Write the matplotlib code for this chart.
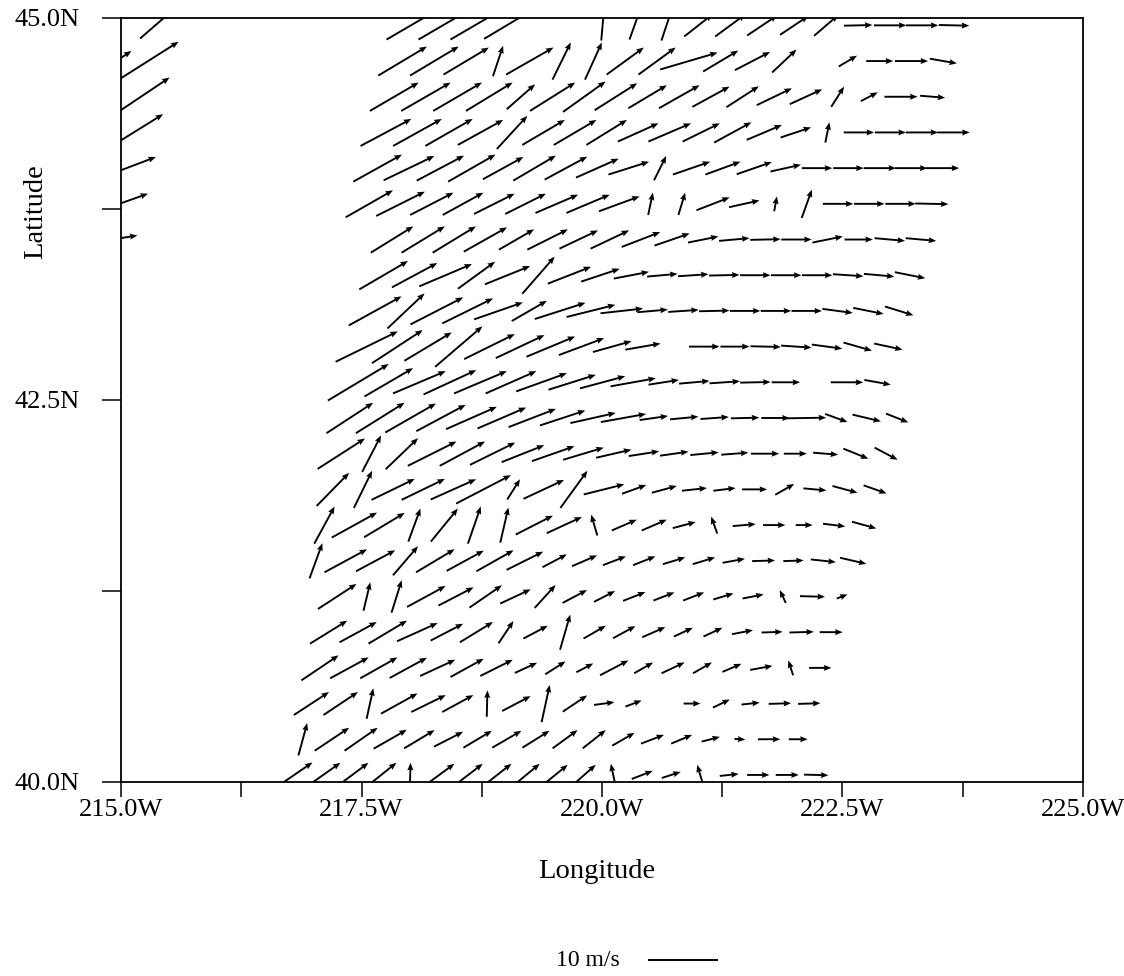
import numpy as np
import matplotlib
matplotlib.use("Agg")
import matplotlib.pyplot as plt
from matplotlib.lines import Line2D

nan = np.nan

# wind (m/s) on the model grid, one list per grid row from south to north
# first_col = grid column index of the first value in each row
first_col = [0, 0, 0, 0, 0, 0, -1, -1, -1, -1, -1, -1, -1, -1, -1, -1, -2, -2, -2, -2, -2, -2]

u_rows = [
    [5.4, 5.1, 4.8, 4.5, 0.1, 4.5, 4.3, 4.2, 4.0, 3.7, 3.4, -0.7, 3.1, 2.8, -0.9, 2.8, 3.3, 3.4, 3.6],
    [1.3, 5.1, 4.9, 4.9, 4.5, 4.3, 4.2, 4.3, 4.0, 3.7, 3.4, 3.3, 3.4, 3.1, 2.7, 1.6, 3.3, 2.8],
    [5.2, 5.1, 1.0, 5.4, 5.1, 4.6, 0.1, 4.2, 1.2, 3.6, 3.0, 2.4, nan, 2.5, 2.5, 2.7, 3.3, 3.3],
    [5.5, 5.7, 5.5, 5.5, 5.2, 4.9, 4.8, 3.3, 3.0, 2.5, 4.2, 2.8, 3.4, 2.8, 2.8, 3.3, -0.7, 3.3],
    [5.5, 5.5, 5.7, 6.0, 4.8, 4.9, 2.2, 3.6, 1.5, 3.3, 3.3, 3.4, 2.8, 2.8, 3.1, 3.1, 3.6, 3.4],
    [5.7, 1.0, 1.5, 5.7, 5.2, 4.8, 4.5, 3.1, 3.6, 3.1, 3.3, 3.1, 3.1, 3.0, 3.1, -0.9, 3.7, 1.6],
    [1.9, 6.3, 5.8, 3.7, 5.7, 5.5, 5.5, 5.4, 3.6, 3.7, 3.4, 3.3, 3.3, 3.3, 3.3, 3.4, 3.0, 3.7, 3.9],
    [3.0, 6.7, 6.0, 1.8, 4.0, 1.9, 1.2, 5.5, 5.2, -0.9, 3.7, 3.7, 3.4, -0.9, 3.4, 3.3, 2.5, 3.3, 3.6],
    [4.8, 2.7, 6.4, 6.4, 6.7, 8.1, 1.9, 6.0, 4.0, 6.0, 3.6, 3.7, 3.7, 3.3, 3.7, 2.8, 3.4, 3.7, 3.4],
    [7.0, 2.8, 4.8, 7.2, 6.7, 6.7, 6.3, 6.3, 6.0, 5.2, 4.5, 4.2, 4.2, 4.0, 4.2, 3.4, 3.7, 3.7, 3.4],
    [6.9, 7.2, 7.5, 7.3, 7.5, 7.2, 7.0, 6.7, 6.7, 6.7, 4.2, 4.2, 4.2, 4.2, 4.2, 6.0, 3.3, 4.2, 3.3],
    [9.0, 7.2, 7.8, 7.8, 7.8, 7.5, 7.5, 7.0, 6.7, 6.7, 4.5, 4.5, 4.5, 4.5, 4.2, nan, 4.8, 3.9],
    [9.2, 7.5, 7.0, 7.0, 7.5, 7.2, 7.2, 6.7, 5.7, 5.2, nan, 4.5, 4.3, 4.5, 4.5, 4.5, 4.2, 4.2],
    [7.8, 5.5, 7.8, 7.5, 7.2, 5.2, 7.5, 7.2, 6.3, 4.5, 4.5, 4.5, 4.5, 4.5, 4.5, 4.5, 4.5, 4.2],
    [7.2, 6.7, 7.8, 5.5, 6.7, 4.8, 6.4, 5.7, 5.2, 4.5, 4.5, 4.5, 4.5, 4.5, 4.5, 4.5, 4.5, 4.5],
    [6.3, 6.4, 6.4, 6.4, 5.2, 6.0, 5.7, 5.7, 5.7, 5.2, 4.5, 4.5, 4.5, 4.5, 4.5, 4.2, 4.5, 4.5],
    [7.0, 7.2, 6.4, 6.0, 6.0, 6.0, 6.3, 6.4, 6.0, 0.7, 1.0, 4.9, 4.5, 0.4, 1.5, 4.5, 4.5, 4.5, 4.9],
    [7.2, 7.5, 7.0, 7.0, 6.0, 6.3, 6.3, 6.3, 6.0, 1.8, 5.5, 5.2, 5.2, 4.5, 4.5, 4.5, 4.8, 4.8, 4.9],
    [7.5, 7.2, 7.0, 6.7, 4.5, 6.3, 6.3, 6.0, 6.0, 6.3, 5.5, 5.5, 5.2, 4.5, 0.6, 4.5, 4.6, 4.8, 4.8],
    [7.2, 7.3, 7.2, 6.9, 4.2, 6.7, 6.3, 6.3, 5.7, 6.0, 5.5, 4.8, 5.2, 4.8, 1.9, 2.5, 4.9, 3.7],
    [7.2, 7.2, 6.7, 1.5, 7.0, 2.7, 2.5, 5.5, 5.5, 8.5, 5.2, 5.2, 3.6, nan, 2.7, 4.0, 4.9, 4.0],
    [7.2, 7.2, 7.2, 6.7, nan, nan, 0.4, 1.5, 1.5, 4.2, 4.5, 4.5, 4.2, 3.6, 4.2, 4.8, 4.8, 4.5],
]

v_rows = [
    [3.7, 3.6, 3.6, 3.6, 3.6, 3.3, 3.3, 3.3, 3.3, 3.0, 3.0, 3.3, 1.2, 0.9, 3.0, 0.3, 0.0, 0.0, -0.1],
    [4.8, 3.4, 3.4, 2.8, 2.7, 2.2, 2.5, 2.5, 2.5, 2.7, 2.7, 1.9, 1.3, 1.3, 0.7, -0.1, 0.0, 0.0],
    [3.4, 3.4, 4.5, 3.0, 2.5, 2.5, 3.9, 2.2, 5.5, 2.4, 0.4, 0.9, nan, 0.0, 1.2, 0.3, 0.1, 0.1],
    [3.7, 3.1, 3.1, 3.0, 2.4, 2.7, 2.4, 1.5, 1.9, 1.3, 2.2, 1.6, 1.6, 1.6, 1.2, 0.6, 2.2, 0.0],
    [3.4, 3.0, 3.4, 2.7, 2.5, 3.0, 3.3, 1.9, 5.2, 1.9, 1.8, 1.5, 1.3, 1.3, 0.6, 0.1, 0.1, 0.0],
    [3.7, 4.2, 4.8, 3.1, 2.7, 3.3, 2.1, 3.4, 1.9, 1.6, 1.3, 1.2, 1.2, 0.9, 0.6, 1.9, -0.1, 0.6],
    [5.2, 3.4, 3.1, 4.3, 3.4, 3.0, 3.1, 2.7, 1.9, 1.6, 1.3, 1.3, 1.0, 1.0, 0.6, 0.1, 0.1, -0.4, -0.9],
    [5.5, 3.7, 3.6, 4.9, 4.9, 5.5, 5.2, 2.8, 2.4, 3.1, 1.6, 1.6, 0.9, 2.5, 0.3, 0.0, 0.0, -0.4, -1.0],
    [4.9, 5.5, 3.1, 3.1, 3.0, 4.2, 3.0, 2.8, 5.5, 1.5, 1.3, 1.0, 0.4, 0.4, 0.0, 1.6, -0.3, -1.0, -1.2],
    [4.5, 5.4, 4.6, 3.6, 3.6, 3.3, 2.5, 2.2, 1.8, 1.2, 0.7, 0.6, 0.4, 0.3, 0.0, 0.0, -0.3, -1.5, -1.8],
    [4.5, 4.5, 4.3, 3.9, 3.3, 3.1, 2.7, 2.2, 1.5, 1.2, 0.6, 0.4, 0.3, 0.1, 0.0, 0.1, -1.2, -1.0, -1.3],
    [5.4, 4.2, 3.3, 3.6, 3.3, 3.3, 2.7, 2.2, 1.8, 1.2, 0.7, 0.4, 0.3, 0.1, 0.0, nan, 0.0, -0.7],
    [4.5, 4.9, 4.2, 6.0, 3.7, 3.4, 3.0, 2.5, 1.6, 0.9, nan, 0.0, 0.0, -0.1, -0.3, -0.6, -1.2, -0.9],
    [4.3, 5.2, 4.0, 3.7, 2.5, 3.0, 2.4, 1.8, 0.7, 0.4, 0.3, 0.1, 0.0, 0.0, 0.0, -0.6, -0.9, -1.3],
    [4.2, 3.6, 3.3, 4.0, 2.7, 5.5, 2.5, 1.9, 1.0, 0.4, 0.3, 0.1, 0.0, 0.0, 0.0, -0.3, -0.4, -0.9],
    [3.9, 3.9, 3.9, 3.6, 3.0, 3.0, 2.7, 2.7, 2.2, 1.8, 0.9, 0.4, 0.1, 0.0, 0.9, 0.0, -0.4, -0.4],
    [4.0, 3.6, 3.3, 3.3, 3.0, 3.0, 2.7, 2.7, 2.2, 3.3, 3.3, 1.9, 1.0, 2.2, 4.2, 0.0, 0.0, 0.0, -0.1],
    [4.0, 3.6, 3.7, 4.0, 3.3, 3.7, 3.4, 2.8, 1.9, 3.6, 1.9, 1.9, 1.8, 1.0, 0.0, 0.0, 0.0, 0.0, 0.0],
    [4.0, 4.0, 4.0, 3.7, 4.9, 3.7, 3.7, 3.7, 2.7, 2.7, 2.7, 3.0, 2.2, 1.5, 3.0, 0.0, 0.0, 0.0, 0.0],
    [4.2, 4.2, 4.2, 4.2, 3.7, 4.2, 4.5, 4.0, 3.4, 3.4, 3.0, 3.1, 2.5, 2.2, 3.0, 1.3, 0.0, -0.3],
    [4.3, 4.3, 4.0, 4.5, 4.0, 5.5, 5.5, 4.0, 4.0, 2.5, 3.1, 2.7, 3.4, nan, 1.6, 0.0, 0.0, -0.7],
    [4.2, 4.2, 4.2, 4.0, nan, nan, 4.5, 4.2, 4.5, 3.3, 3.3, 3.0, 2.8, 3.1, 0.1, 0.0, 0.0, -0.1],
]

# isolated grid points on the western edge of the domain
edge_row = [21, 20, 20, 19, 18, 17, 16, 15]
edge_col = [-10, -11, -10, -10, -10, -10, -10, -10]
edge_u = [4.5, 4.5, 9.0, 8.5, 8.7, 8.7, 8.5, 7.5]
edge_v = [3.9, 3.0, 5.7, 5.7, 5.4, 3.3, 3.0, 1.2]

# model grid geometry (rotated grid, spacing in degrees grows northward)
lon_start = 216.80
lat_start = 40.046
dlat = 0.2336
dlon = 0.3015
dlon_row = 0.00146
lon_skew = 0.0894

ref_speed = 10.0  # m/s for the key
scale = 14.8      # m/s per inch

rows, cols, U, V = [], [], [], []
for r in range(len(u_rows)):
    for k in range(len(u_rows[r])):
        rows.append(r)
        cols.append(first_col[r] + k)
        U.append(u_rows[r][k])
        V.append(v_rows[r][k])
rows += edge_row
cols += edge_col
U += edge_u
V += edge_v

rows = np.array(rows, dtype=float)
cols = np.array(cols, dtype=float)
U = np.array(U)
V = np.array(V)
lon = lon_start + rows * lon_skew + cols * (dlon + rows * dlon_row)
lat = lat_start + rows * dlat
ok = ~np.isnan(U)

fig = plt.figure(figsize=(11.24, 9.76), dpi=100)
ax = fig.add_axes([0.1077, 0.1988, 0.8558, 0.7828])

ax.quiver(lon[ok], lat[ok], U[ok], V[ok], pivot='mid', units='inches',
          scale=scale, scale_units='inches', width=0.019,
          headwidth=3.2, headlength=4.0, headaxislength=3.6, color='black')

ax.set_xlim(215, 225)
ax.set_ylim(40, 45)

xt = np.arange(215, 225.01, 1.25)
yt = np.arange(40, 45.01, 1.25)
ax.set_xticks(xt)
ax.set_yticks(yt)
ax.set_xticklabels([f"{t:.1f}W" if abs(t / 2.5 - round(t / 2.5)) < 1e-6 else "" for t in xt])
ax.set_yticklabels([f"{t:.1f}N" if abs(t / 2.5 - round(t / 2.5)) < 1e-6 else "" for t in yt])

for lbl in ax.get_xticklabels() + ax.get_yticklabels():
    lbl.set_fontfamily('Liberation Serif')
    lbl.set_fontsize(19)
ax.tick_params(axis='x', direction='out', length=11, width=1.1, pad=1.5)
ax.tick_params(axis='y', direction='out', length=14, width=1.1, pad=16)
for s in ax.spines.values():
    s.set_linewidth(1.3)

lab_font = dict(family='Liberation Serif', size=20.5)
fig.text(597 / 1124, 1 - 872 / 976, "Longitude", ha='center', va='center', **lab_font)
fig.text(36 / 1124, 1 - 212 / 976, "Latitude", ha='center', va='center',
         rotation=90, **lab_font)

# key: length of 10 m/s from the quiver scale
key_len = ref_speed / scale * 100 / 1124
kx0 = 649 / 1124
ky = 1 - 960 / 976
fig.add_artist(Line2D([kx0, kx0 + key_len], [ky, ky], color='black', lw=1.4,
                      transform=fig.transFigure))
fig.text(620 / 1124, ky, "10 m/s", ha='right', va='center',
         family='Liberation Serif', size=17)

fig.savefig("out.png", dpi=100)
